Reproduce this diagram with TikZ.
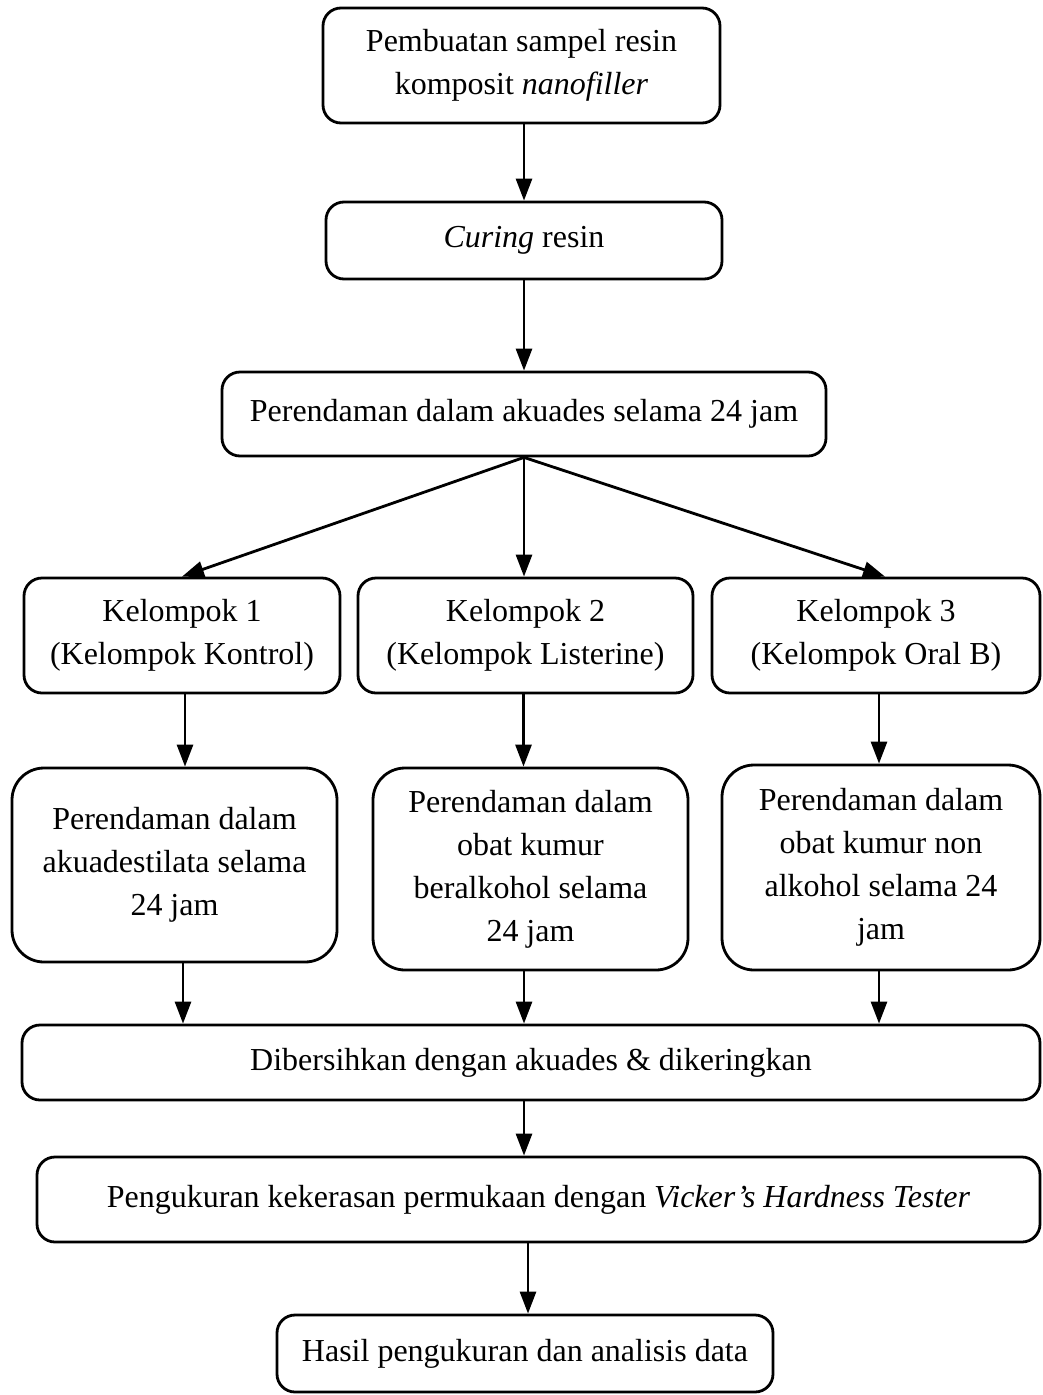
\documentclass[tikz,border=0pt]{standalone}
\usepackage{fontspec}
\setmainfont{Liberation Serif}
\usetikzlibrary{arrows.meta}
\tikzset{
  box/.style={draw, line width=2.8pt, rounded corners=18pt, inner sep=0pt, align=center,
    font=\fontsize{32}{43}\selectfont},
  bigbox/.style={box, rounded corners=32pt},
  arr/.style={line width=2.8pt, -{Triangle[length=22pt,width=16pt]}}
}
\begin{document}
\begin{tikzpicture}[x=1pt,y=-1pt]
\useasboundingbox (0,0) rectangle (1043,1395);
\node[box, minimum width=397pt, minimum height=115pt] (b1) at (521.5,65.5) {Pembuatan sampel resin\\komposit \textit{nanofiller}};
\node[box, minimum width=396pt, minimum height=77pt] (b2) at (524,240.5) {\textit{Curing} resin};
\node[box, minimum width=604pt, minimum height=84pt] (b3) at (524,414) {Perendaman dalam akuades selama 24 jam};
\node[box, minimum width=316pt, minimum height=115pt] (k1) at (182,635.5) {Kelompok 1\\(Kelompok Kontrol)};
\node[box, minimum width=335pt, minimum height=115pt] (k2) at (525.5,635.5) {Kelompok 2\\(Kelompok Listerine)};
\node[box, minimum width=328pt, minimum height=115pt] (k3) at (876,635.5) {Kelompok 3\\(Kelompok Oral B)};
\node[bigbox, minimum width=325pt, minimum height=194pt] (p1) at (174.5,865) {Perendaman dalam\\akuadestilata selama\\24 jam};
\node[bigbox, minimum width=315pt, minimum height=202pt] (p2) at (530.5,869) {Perendaman dalam\\obat kumur\\beralkohol selama\\24 jam};
\node[bigbox, minimum width=318pt, minimum height=205pt] (p3) at (881,867.5) {Perendaman dalam\\obat kumur non\\alkohol selama 24\\jam};
\node[box, minimum width=1018pt, minimum height=75pt] (d) at (531,1062.5) {Dibersihkan dengan akuades \& dikeringkan};
\node[box, minimum width=1003pt, minimum height=85pt] (e) at (538.5,1199.5) {Pengukuran kekerasan permukaan dengan \textit{Vicker's Hardness Tester}};
\node[box, minimum width=496pt, minimum height=77pt] (h) at (525,1353.5) {Hasil pengukuran dan analisis data};
\draw[arr] (b1.south -| b2.north) -- (b2.north);
\draw[arr] (b2.south) -- (b2.south |- b3.north);
\draw[arr] (b3.south) -- (k1.north);
\draw[arr] (b3.south) -- (b3.south |- k2.north);
\draw[arr] (b3.south) -- ([xshift=9pt]k3.north);
\draw[arr] ([xshift=3pt]k1.south) -- ([xshift=3pt]k1.south |- p1.north);
\draw[arr] ([xshift=-2pt]k2.south) -- ([xshift=-2pt]k2.south |- p2.north);
\draw[arr] ([xshift=3pt]k3.south) -- ([xshift=3pt]k3.south |- p3.north);
\draw[arr] ([xshift=1pt]k1.south |- p1.south) -- ([xshift=1pt]k1.south |- d.north);
\draw[arr] (b2.south |- p2.south) -- (b2.south |- d.north);
\draw[arr] ([xshift=3pt]k3.south |- p3.south) -- ([xshift=3pt]k3.south |- d.north);
\draw[arr] (b2.south |- d.south) -- (b2.south |- e.north);
\draw[arr] ([xshift=3pt]h.north |- e.south) -- ([xshift=3pt]h.north);
\end{tikzpicture}
\end{document}
